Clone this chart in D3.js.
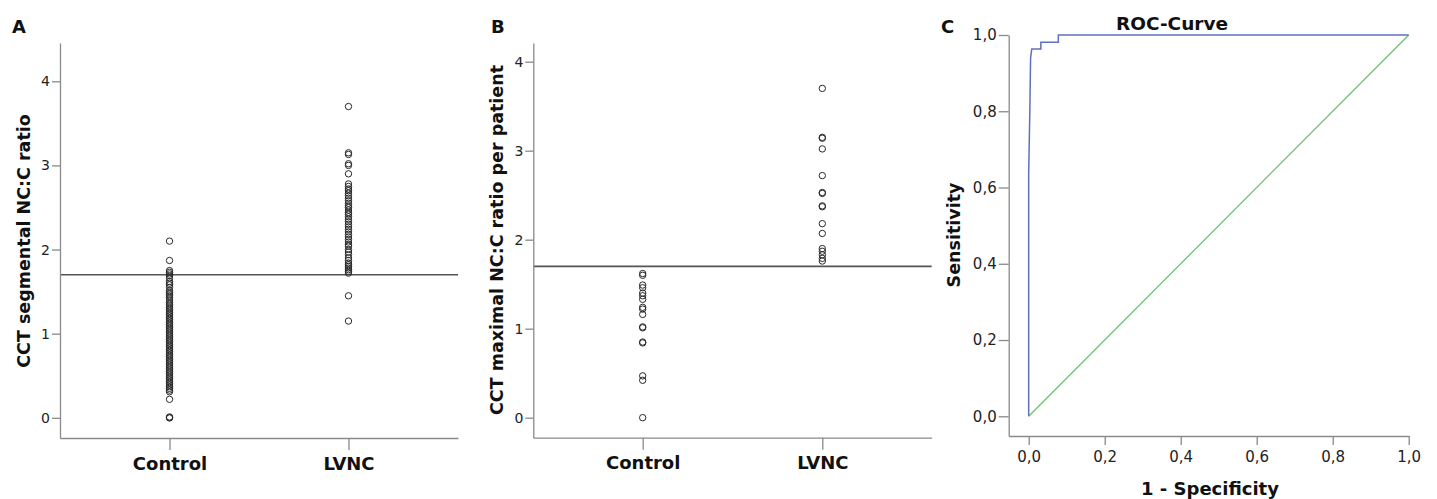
<!DOCTYPE html>
<html>
<head>
<meta charset="utf-8">
<script src="https://cdn.jsdelivr.net/npm/d3@7"></script>
<style>
  html, body { margin: 0; padding: 0; background: #fff; }
  svg { display: block; }
  text { font-family: "DejaVu Sans", sans-serif; }
</style>
</head>
<body>
<svg id="chart" width="1437" height="499"></svg>
<script>
// ---------- data ----------
const groups = ["Control", "LVNC"];

// Panel A: segmental NC:C ratio
const segControl = [2.10, 1.87, 1.75, 1.73, 1.71, 1.69, 1.66, 1.62, 1.60, 1.58, 1.55, 1.51, 1.49, 1.47,
  1.45, 1.43, 1.40, 1.37, 1.35, 1.33, 1.31, 1.29, 1.27, 1.25, 1.23, 1.21, 1.19, 1.17, 1.15, 1.13, 1.11,
  1.09, 1.07, 1.05, 1.03, 1.01, 0.99, 0.97, 0.95, 0.93, 0.91, 0.89, 0.87, 0.85, 0.83, 0.81, 0.79, 0.77,
  0.75, 0.73, 0.71, 0.69, 0.67, 0.65, 0.63, 0.61, 0.59, 0.57, 0.55, 0.53, 0.51, 0.49, 0.47, 0.45, 0.43,
  0.41, 0.39, 0.37, 0.35, 0.33, 0.31, 0.22, 0.00, 0.00, 0.01];
const segLVNC = [3.70, 3.15, 3.13, 3.02, 3.00, 2.90, 2.78, 2.75, 2.72, 2.70, 2.67, 2.64, 2.61, 2.58, 2.55,
  2.52, 2.50, 2.47, 2.44, 2.42, 2.39, 2.36, 2.33, 2.30, 2.27, 2.24, 2.21, 2.18, 2.15, 2.12, 2.09, 2.06,
  2.04, 2.00, 1.97, 1.94, 1.90, 1.87, 1.84, 1.82, 1.80, 1.78, 1.76, 1.74, 1.72, 1.45, 1.15];

// Panel B: maximal NC:C ratio per patient
const maxControl = [1.62, 1.60, 1.49, 1.46, 1.40, 1.37, 1.33, 1.24, 1.22, 1.16, 1.02, 1.01, 0.85, 0.84,
  0.47, 0.42, 0.00];
const maxLVNC = [3.70, 3.15, 3.14, 3.02, 2.72, 2.53, 2.52, 2.38, 2.37, 2.18, 2.07, 1.90, 1.87, 1.83, 1.79,
  1.76];

const cutoff = 1.7;
const ratioTicks = [0, 1, 2, 3, 4];

// Panel C: ROC curve (1 - specificity, sensitivity)
const rocFpr = [0, 0, 0.003, 0.005, 0.008, 0.032, 0.032, 0.078, 0.078, 1];
const rocTpr = [0, 0.64, 0.80, 0.94, 0.963, 0.963, 0.981, 0.981, 1.0, 1.0];
const refFpr = [0, 1];
const refTpr = [0, 1];
const rocTicks = [0, 0.2, 0.4, 0.6, 0.8, 1.0];

// ---------- drawing ----------
const svg = d3.select("#chart");
svg.append("rect").attr("width", 1437).attr("height", 499).attr("fill", "#fff");

const axisColor = "#8a8a8a";
const commaFmt = d3.formatLocale({decimal: ",", thousands: ".", grouping: [3], currency: ["", ""]}).format(".1f");

function styleAxis(g, fontSize) {
  g.attr("font-size", fontSize).attr("font-family", "DejaVu Sans, sans-serif");
  g.select(".domain").attr("stroke", axisColor).attr("stroke-width", 1.3);
  g.selectAll(".tick line").attr("stroke", axisColor).attr("stroke-width", 1.3);
  g.selectAll(".tick text").attr("fill", "#222").attr("font-size", fontSize);
}

function dotPanel(cfg) {
  const x = d3.scalePoint().domain(groups).range([cfg.x0, cfg.x1]).padding(cfg.pad);
  const y = d3.scaleLinear().domain(cfg.yDomain).range([cfg.y0, cfg.y1]);
  const g = svg.append("g");

  // reference line
  g.append("line")
    .attr("x1", cfg.x0).attr("x2", cfg.x1)
    .attr("y1", y(cutoff)).attr("y2", y(cutoff))
    .attr("stroke", "#555").attr("stroke-width", 1.6);

  const ya = g.append("g").attr("transform", `translate(${cfg.x0},0)`)
    .call(d3.axisLeft(y).tickValues(ratioTicks).tickSize(8).tickSizeOuter(0).tickPadding(2).tickFormat(d3.format("d")));
  styleAxis(ya, 14);

  const xa = g.append("g").attr("transform", `translate(0,${cfg.y0})`)
    .call(d3.axisBottom(x).tickSize(12).tickSizeOuter(0).tickPadding(7));
  styleAxis(xa, 18);
  xa.selectAll(".tick text").attr("font-weight", "bold").attr("fill", "#111");

  const series = [[groups[0], cfg.a], [groups[1], cfg.b]];
  series.forEach(([grp, vals]) => {
    g.selectAll(null).data(vals).enter().append("circle")
      .attr("cx", x(grp)).attr("cy", d => y(d)).attr("r", 3.2)
      .attr("fill", "none").attr("stroke", "#2a2a2a").attr("stroke-width", 1);
  });

  g.append("text")
    .attr("transform", `translate(${cfg.labelX},${cfg.labelY}) rotate(-90)`)
    .attr("text-anchor", "middle").attr("font-weight", "bold").attr("font-size", 17.5)
    .attr("fill", "#111").text(cfg.label);

  g.append("text").attr("x", cfg.letterX).attr("y", 33).attr("font-weight", "bold")
    .attr("font-size", 18).attr("fill", "#111").text(cfg.letter);
}

dotPanel({x0: 60, x1: 458, pad: 0.612, y0: 438, y1: 43, yDomain: [-0.24, 4.455],
  a: segControl, b: segLVNC, label: "CCT segmental NC:C ratio", labelX: 29.5, labelY: 241,
  letter: "A", letterX: 12});

dotPanel({x0: 533.3, x1: 931.7, pad: 0.609, y0: 437.7, y1: 43, yDomain: [-0.225, 4.21],
  a: maxControl, b: maxLVNC, label: "CCT maximal NC:C ratio per patient", labelX: 503, labelY: 240,
  letter: "B", letterX: 491});

// Panel C
(function() {
  const x = d3.scaleLinear().domain([-0.0526, 1]).range([1008.7, 1408.7]);
  const y = d3.scaleLinear().domain([-0.0517, 1]).range([436, 35]);
  const g = svg.append("g");

  const ya = g.append("g").attr("transform", `translate(${x.range()[0]},0)`)
    .call(d3.axisLeft(y).tickValues(rocTicks).tickSize(10).tickSizeOuter(0).tickPadding(2).tickFormat(commaFmt));
  styleAxis(ya, 15);
  const xa = g.append("g").attr("transform", `translate(0,${y.range()[0]})`)
    .call(d3.axisBottom(x).tickValues(rocTicks).tickSize(9).tickSizeOuter(0).tickPadding(6).tickFormat(commaFmt));
  styleAxis(xa, 15);

  const line = d3.line().x(d => x(d[0])).y(d => y(d[1]));
  g.append("path").datum(d3.zip(refFpr, refTpr)).attr("d", line)
    .attr("fill", "none").attr("stroke", "#6cc46c").attr("stroke-width", 1.3);
  g.append("path").datum(d3.zip(rocFpr, rocTpr)).attr("d", line)
    .attr("fill", "none").attr("stroke", "#5f70bd").attr("stroke-width", 1.5);

  g.append("text").attr("x", 1172).attr("y", 30).attr("text-anchor", "middle")
    .attr("font-weight", "bold").attr("font-size", 18.5).attr("fill", "#111").text("ROC-Curve");
  g.append("text").attr("transform", "translate(960,235) rotate(-90)").attr("text-anchor", "middle")
    .attr("font-weight", "bold").attr("font-size", 17.5).attr("fill", "#111").text("Sensitivity");
  g.append("text").attr("x", 1210).attr("y", 495).attr("text-anchor", "middle")
    .attr("font-weight", "bold").attr("font-size", 18).attr("fill", "#111").text("1 - Specificity");
  g.append("text").attr("x", 941).attr("y", 33).attr("font-weight", "bold")
    .attr("font-size", 18).attr("fill", "#111").text("C");
})();
</script>
</body>
</html>
